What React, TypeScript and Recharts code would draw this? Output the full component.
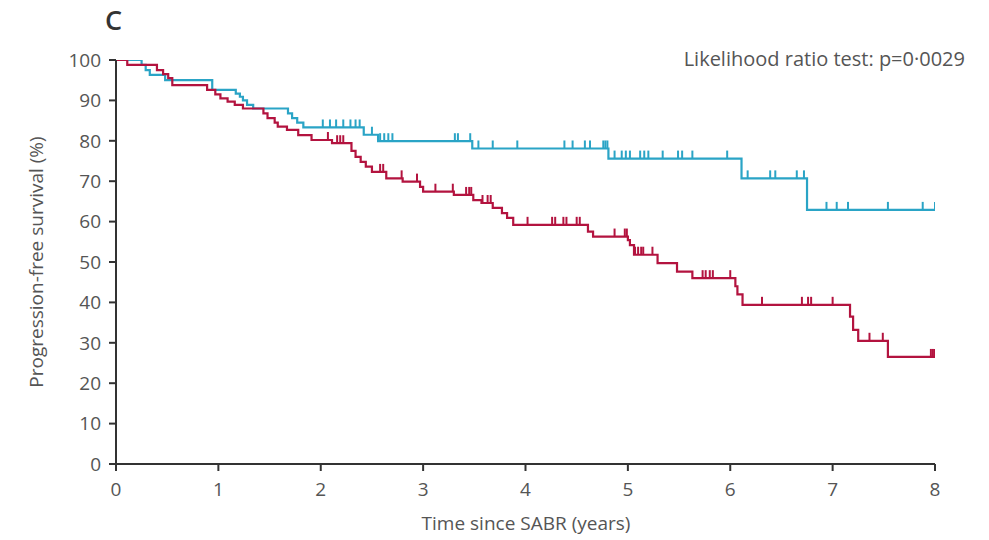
import React from "react";
import { ComposedChart, Line, Scatter, XAxis, YAxis } from "recharts";

// ---- tick labels ----
const xTicks = [0, 1, 2, 3, 4, 5, 6, 7, 8];
const yTicks = [0, 10, 20, 30, 40, 50, 60, 70, 80, 90, 100];

// ---- blue curve (Kaplan-Meier steps) ----
const blueTime = [0, 0.25, 0.29, 0.33, 0.48, 0.94, 1.17, 1.21, 1.24, 1.28, 1.34, 1.68, 1.72, 1.77, 1.83, 2.42, 2.56, 3.48, 4.81, 6.11, 6.75, 8.0];
const blueSurv = [100, 98.8, 97.5, 96.3, 95, 92.6, 91.7, 90.9, 90, 88.9, 88, 86.8, 85.6, 84.5, 83.3, 81.5, 79.9, 78.1, 75.6, 70.7, 62.9, 62.9];
const blueCensor = [2.02, 2.09, 2.15, 2.22, 2.29, 2.34, 2.38, 2.5, 2.58, 2.62, 2.66, 2.7, 3.31, 3.34, 3.46, 3.54, 3.68, 3.92, 4.38, 4.46, 4.58, 4.63, 4.76, 4.78, 4.8, 4.87, 4.94, 4.98, 5.02, 5.12, 5.16, 5.2, 5.34, 5.49, 5.53, 5.63, 5.97, 6.17, 6.39, 6.44, 6.65, 6.72, 6.94, 7.04, 7.15, 7.54, 7.88, 8.0];

// ---- red curve (Kaplan-Meier steps) ----
const redTime = [0, 0.11, 0.4, 0.46, 0.51, 0.55, 0.89, 0.97, 1.02, 1.09, 1.16, 1.24, 1.44, 1.48, 1.55, 1.58, 1.67, 1.78, 1.91, 2.11, 2.3, 2.34, 2.39, 2.44, 2.5, 2.64, 2.8, 2.97, 3.0, 3.3, 3.49, 3.57, 3.68, 3.77, 3.82, 3.88, 4.61, 4.66, 5.0, 5.02, 5.06, 5.29, 5.48, 5.63, 6.05, 6.07, 6.12, 7.17, 7.2, 7.25, 7.54, 8.0];
const redSurv = [100, 98.8, 97.5, 96.5, 95.5, 93.8, 92.6, 91.5, 90.5, 89.7, 88.9, 88, 86.8, 85.6, 84.5, 83.5, 82.7, 81.4, 80.2, 79.4, 77.5, 76, 74.8, 73.6, 72.3, 70.7, 69.9, 68.6, 67.4, 66.6, 65.3, 64.6, 63.4, 62.1, 60.9, 59.2, 57.5, 56.3, 55.4, 54.2, 51.8, 49.7, 47.6, 46, 44, 42, 39.4, 36.5, 33.2, 30.5, 26.5, 26.5];
const redCensor = [2.07, 2.16, 2.19, 2.22, 2.58, 2.61, 2.79, 2.94, 3.12, 3.29, 3.42, 3.45, 3.47, 3.58, 3.63, 3.66, 4.02, 4.26, 4.29, 4.37, 4.4, 4.5, 4.53, 4.87, 4.97, 4.99, 5.07, 5.1, 5.13, 5.15, 5.24, 5.73, 5.76, 5.8, 5.83, 6.0, 6.31, 6.7, 6.76, 6.79, 7.0, 7.36, 7.49, 7.96, 7.98, 8.0];

const BLUE = "#2aa4c6";
const RED = "#b3133f";
const FONT = "'Open Sans', 'DejaVu Sans', sans-serif";
const TEXT = "#555";

function survAt(times: number[], survs: number[], t: number) {
  let s = survs[0];
  for (let i = 0; i < times.length; i++) {
    if (times[i] <= t) s = survs[i];
  }
  return s;
}

const blueData = blueTime.map((t, i) => ({ t, s: blueSurv[i] }));
const redData = redTime.map((t, i) => ({ t, s: redSurv[i] }));
const blueCens = blueCensor.map((t) => ({ t, s: survAt(blueTime, blueSurv, t) }));
const redCens = redCensor.map((t) => ({ t, s: survAt(redTime, redSurv, t) }));

const censorShape = (color: string) => (props: any) => {
  const { cx, cy } = props;
  if (cx == null || cy == null) return <g />;
  return <line x1={cx} y1={cy} x2={cx} y2={cy - 8} stroke={color} strokeWidth={2} />;
};

export default function App() {
  return (
    <div style={{ position: "absolute", left: 0, top: 0, width: 989, height: 540, background: "#fff", fontFamily: FONT }}>
      <div style={{ position: "absolute", left: 105, top: 1, fontSize: 27, fontWeight: 600, color: "#333", fontFamily: FONT }}>C</div>
      <div style={{ position: "absolute", right: 24, top: 45, fontSize: 20, color: TEXT, fontFamily: FONT, whiteSpace: "nowrap" }}>
        Likelihood ratio test: p=0·0029
      </div>
      <ComposedChart width={989} height={540} margin={{ top: 60, right: 54, bottom: 36, left: 56 }}>
        <XAxis
          type="number"
          dataKey="t"
          domain={[0, 8]}
          ticks={xTicks}
          interval={0}
          allowDataOverflow
          stroke="#333"
          strokeWidth={2}
          tickSize={7}
          tickMargin={12}
          height={40}
          tick={{ fill: TEXT, fontSize: 19, fontFamily: FONT }}
          label={{
            content: () => (
              <text x={526} y={530} textAnchor="middle" fill={TEXT} fontSize={19} fontFamily={FONT}>
                Time since SABR (years)
              </text>
            ),
          }}
        />
        <YAxis
          type="number"
          dataKey="s"
          domain={[0, 100]}
          ticks={yTicks}
          interval={0}
          allowDataOverflow
          stroke="#333"
          strokeWidth={2}
          tickSize={7}
          tickMargin={8}
          width={60}
          tick={{ fill: TEXT, fontSize: 19, fontFamily: FONT }}
          label={{
            content: () => (
              <text x={38} y={262} transform="rotate(-90 38 262)" textAnchor="middle" dominantBaseline="middle" fill={TEXT} fontSize={19} fontFamily={FONT}>
                Progression-free survival (%)
              </text>
            ),
          }}
        />
        <Line data={blueData} dataKey="s" type="stepAfter" stroke={BLUE} strokeWidth={2.2} dot={false} activeDot={false} isAnimationActive={false} />
        <Line data={redData} dataKey="s" type="stepAfter" stroke={RED} strokeWidth={2.2} dot={false} activeDot={false} isAnimationActive={false} />
        <Scatter data={blueCens} dataKey="s" shape={censorShape(BLUE)} isAnimationActive={false} />
        <Scatter data={redCens} dataKey="s" shape={censorShape(RED)} isAnimationActive={false} />
      </ComposedChart>
    </div>
  );
}
